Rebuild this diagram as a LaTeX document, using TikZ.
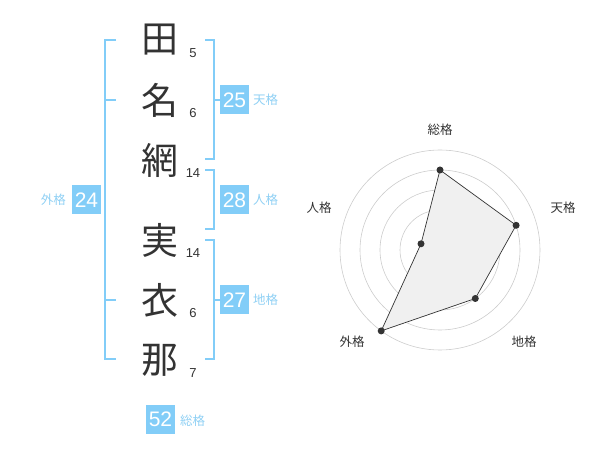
\documentclass[tikz,border=0pt]{standalone}
\usepackage{fontspec}
\setmainfont{Liberation Sans}
\newfontfamily\jp{Noto Sans CJK JP}
\definecolor{kblue}{HTML}{82CDF8}
\definecolor{klabel}{HTML}{8FD0F4}
\definecolor{ink}{HTML}{333333}
\definecolor{ring}{HTML}{CCCCCC}
\definecolor{area}{HTML}{F0F0F0}
\tikzset{
  kanji/.style={inner sep=0pt, text=ink, font=\jp\fontsize{37}{37}\selectfont},
  strokes/.style={inner sep=0pt, text=ink, font=\fontsize{13}{13}\selectfont},
  kbox/.style={fill=kblue, text=white, minimum size=29pt, inner sep=0pt, font=\fontsize{21}{21}\selectfont},
  klab/.style={inner sep=0pt, text=klabel, font=\jp\fontsize{12.5}{12.5}\selectfont},
  br/.style={draw=kblue, line width=2pt},
  rlab/.style={inner sep=0pt, text=ink, font=\jp\fontsize{12.5}{12.5}\selectfont},
  rdot/.style={circle, fill=ink, inner sep=0pt, minimum size=7pt},
}
\begin{document}
\begin{tikzpicture}[x=1pt,y=-1pt]
\useasboundingbox (0,0) rectangle (600,470);
% name characters
\node[kanji] (c1) at (160,40) {田};
\node[kanji] (c2) at (160,100) {名};
\node[kanji] (c3) at (160,160) {網};
\node[kanji] (c4) at (160,240) {実};
\node[kanji] (c5) at (160,300) {衣};
\node[kanji] (c6) at (160,360) {那};
% stroke counts
\node[strokes] (n1) at (193,53) {5};
\node[strokes] (n2) at (193,113) {6};
\node[strokes] (n3) at (193,173) {14};
\node[strokes] (n4) at (193,253) {14};
\node[strokes] (n5) at (193,313) {6};
\node[strokes] (n6) at (193,373) {7};
% brackets
\draw[br] (116,40) -- (105,40) -- (105,359) -- (116,359);
\draw[br] (105,100) -- (116,100);
\draw[br] (105,300) -- (116,300);
\draw[br] (205,40) -- (214,40) -- (214,159) -- (205,159);
\draw[br] (214,100) -- (221,100);
\draw[br] (205,170) -- (214,170) -- (214,229) -- (205,229);
\draw[br] (205,240) -- (214,240) -- (214,359) -- (205,359);
\draw[br] (214,300) -- (221,300);
% boxes
\node[kbox] (b25) at (234.5,100) {25};
\node[klab, anchor=west] (l25) at (253,100) {天格};
\node[kbox] (b28) at (234.5,200) {28};
\node[klab, anchor=west] (l28) at (253,200) {人格};
\node[kbox] (b27) at (234.5,300) {27};
\node[klab, anchor=west] (l27) at (253,300) {地格};
\node[kbox] (b24) at (86.5,200) {24};
\node[klab, anchor=east] (l24) at (66,200) {外格};
\node[kbox] (b52) at (160.5,419) {52};
\node[klab, anchor=west] (l52) at (180,421) {総格};
% radar chart
\foreach \r in {20,40,60,80,100} \draw[ring, line width=0.6pt] (440,250) circle[radius=\r];
\node[circle, fill=ring, inner sep=0pt, minimum size=6.5pt] (ctr) at (440,250) {};
\coordinate (q1) at (440,170);
\coordinate (q2) at (516.1,225.3);
\coordinate (q3) at (475.3,298.5);
\coordinate (q4) at (381.2,330.9);
\coordinate (q5) at (421,243.8);
\draw[fill=area, draw=ink, line width=0.7pt] (q1) -- (q2) -- (q3) -- (q4) -- (q5) -- cycle;
\node[rdot] (p1) at (q1) {};
\node[rdot] (p2) at (q2) {};
\node[rdot] (p3) at (q3) {};
\node[rdot] (p4) at (q4) {};
\node[rdot] (p5) at (q5) {};
\node[rlab] (r1) at (440,130) {総格};
\node[rlab] (r2) at (563,208) {天格};
\node[rlab] (r3) at (524,342) {地格};
\node[rlab] (r4) at (352,342) {外格};
\node[rlab] (r5) at (319,208) {人格};
\end{tikzpicture}
\end{document}
